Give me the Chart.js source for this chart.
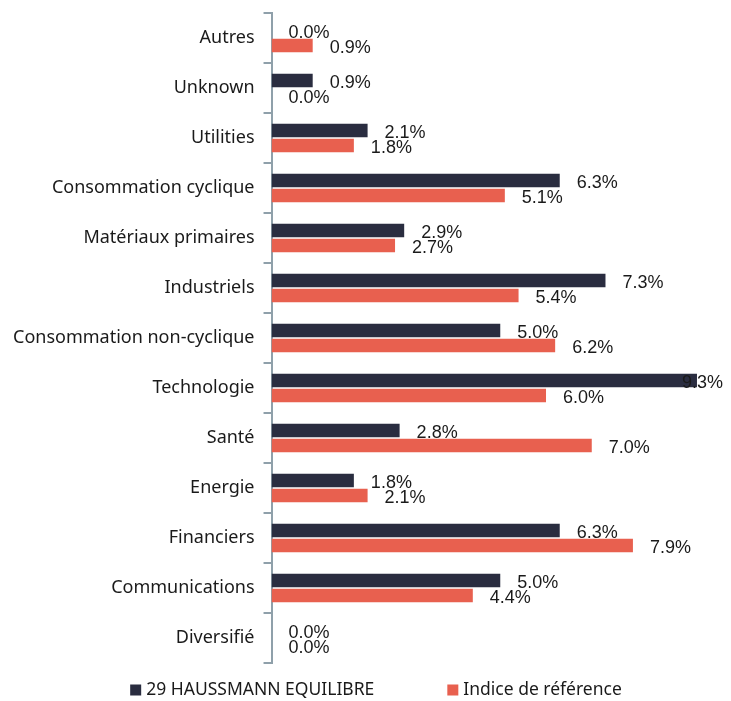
<!DOCTYPE html>
<html>
<head>
<meta charset="utf-8">
<script src="https://cdn.jsdelivr.net/npm/chart.js@4"></script>
<style>
  html, body { margin: 0; padding: 0; background: #fff; }
  #wrap { width: 731px; height: 701px; }
</style>
</head>
<body>
<div id="wrap"><canvas id="sectorChart"></canvas></div>
<script>
// Répartition sectorielle : fonds vs indice
const secteurs = [
  "Autres", "Unknown", "Utilities", "Consommation cyclique", "Matériaux primaires",
  "Industriels", "Consommation non-cyclique", "Technologie", "Santé", "Energie",
  "Financiers", "Communications", "Diversifié"
];
const fonds = [0.0, 0.9, 2.1, 6.3, 2.9, 7.3, 5.0, 9.3, 2.8, 1.8, 6.3, 5.0, 0.0];
const indice = [0.9, 0.0, 1.8, 5.1, 2.7, 5.4, 6.2, 6.0, 7.0, 2.1, 7.9, 4.4, 0.0];
const nomFonds = "29 HAUSSMANN EQUILIBRE";
const nomIndice = "Indice de référence";

const couleurFonds = "#2a2d40";
const couleurIndice = "#e8604f";
const police = "'Noto Sans', sans-serif";

// étiquettes de valeur à droite des barres
const valueLabels = {
  id: "valueLabels",
  afterDatasetsDraw(chart) {
    const ctx = chart.ctx;
    const right = chart.width - 8;
    ctx.save();
    ctx.font = "18px 'Liberation Sans', Arial, sans-serif";
    ctx.fillStyle = "#1a1a1a";
    ctx.textBaseline = "middle";
    ctx.textAlign = "left";
    chart.data.datasets.forEach(function(ds, i) {
      chart.getDatasetMeta(i).data.forEach(function(bar, j) {
        const txt = ds.data[j].toFixed(1) + "%";
        const w = ctx.measureText(txt).width;
        let x = Math.max(bar.x, bar.base) + 17;
        if (x + w > right) x = right - w;
        ctx.fillText(txt, x, bar.y + 3);
      });
    });
    ctx.restore();
  }
};

// légende en bas, deux entrées bien espacées
const legendeBas = {
  id: "legendeBas",
  afterDraw(chart) {
    const ctx = chart.ctx;
    const items = [
      { text: nomFonds, color: couleurFonds },
      { text: nomIndice, color: couleurIndice }
    ];
    const box = 11, gapText = 5, gapItems = 73;
    const y = chart.height - 11;
    ctx.save();
    ctx.font = "17.5px " + police;
    ctx.textBaseline = "middle";
    const widths = items.map(it => box + gapText + ctx.measureText(it.text).width);
    const total = widths[0] + gapItems + widths[1];
    let x = 376 - total / 2;
    items.forEach(function(it, k) {
      ctx.fillStyle = it.color;
      ctx.fillRect(x, y - box / 2, box, box);
      ctx.fillStyle = "#1a1a1a";
      ctx.fillText(it.text, x + box + gapText, y);
      x += widths[k] + gapItems;
    });
    ctx.restore();
  }
};

new Chart(document.getElementById("sectorChart"), {
  type: "bar",
  data: {
    labels: secteurs,
    datasets: [
      {
        label: nomFonds,
        data: fonds,
        backgroundColor: couleurFonds,
        categoryPercentage: 0.6,
        barPercentage: 0.9
      },
      {
        label: nomIndice,
        data: indice,
        backgroundColor: couleurIndice,
        categoryPercentage: 0.6,
        barPercentage: 0.9
      }
    ]
  },
  options: {
    indexAxis: "y",
    responsive: true,
    maintainAspectRatio: false,
    animation: false,
    layout: { padding: { left: 4, right: 2, top: 13, bottom: 38 } },
    scales: {
      x: {
        display: false,
        min: 0,
        max: 10
      },
      y: {
        // pas de marge auto au-dessus du premier libellé
        afterFit(scale) {
          scale.paddingTop = 0;
          scale.paddingBottom = 0;
        },
        border: { display: true, color: "#8fa0aa", width: 2 },
        grid: {
          offset: true,
          drawOnChartArea: false,
          drawTicks: true,
          tickLength: 8,
          color: "#8fa0aa",
          lineWidth: 2
        },
        ticks: {
          color: "#1a1a1a",
          padding: 9,
          font: { family: police, size: 18 }
        }
      }
    },
    plugins: {
      legend: { display: false },
      tooltip: { enabled: false }
    }
  },
  plugins: [valueLabels, legendeBas]
});
</script>
</body>
</html>
